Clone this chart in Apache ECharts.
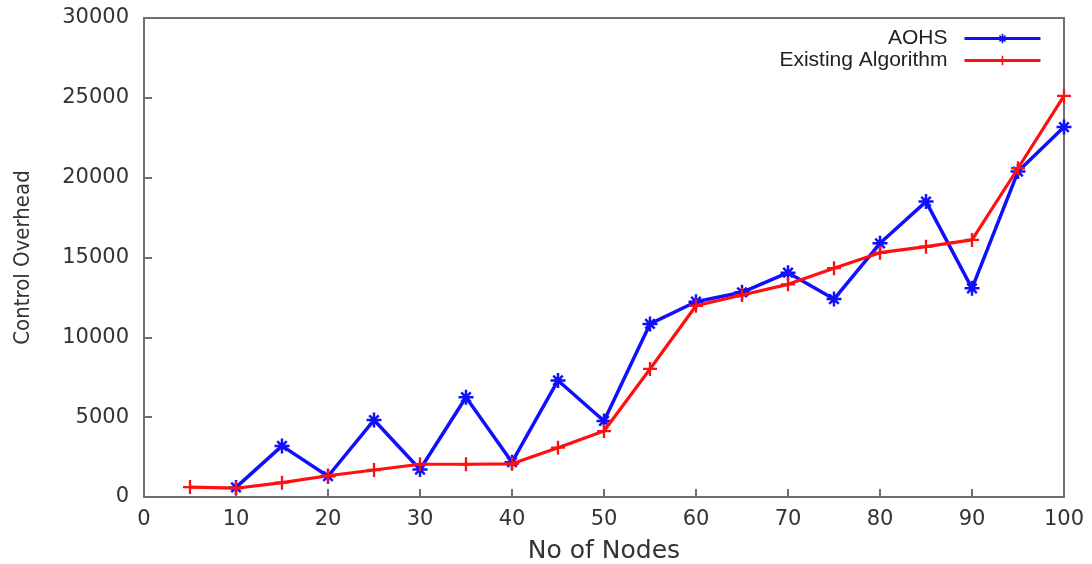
<!DOCTYPE html>
<html><head><meta charset="utf-8">
<script src="https://cdn.jsdelivr.net/npm/echarts@6/dist/echarts.min.js"></script>
<style>html,body{margin:0;padding:0;background:#fff}#c{width:1092px;height:564px}</style>
</head><body><div id="c"></div>
<script>
const nodesAOHS = [10,15,20,25,30,35,40,45,50,55,60,65,70,75,80,85,90,95,100];
const aohs      = [600,3200,1300,4820,1720,6250,2180,7300,4760,10840,12230,12820,14050,12400,15890,18500,13070,20380,23170];
const nodesExisting = [5,10,15,20,25,30,35,40,45,50,55,60,65,70,75,80,85,90,95,100];
const existing      = [620,550,900,1330,1690,2050,2050,2080,3090,4130,8020,11980,12650,13320,14330,15300,15680,16100,20590,25120];
const xTicks = [0,10,20,30,40,50,60,70,80,90,100];
const yTicks = [0,5000,10000,15000,20000,25000,30000];

const plusPath = 'path://M5,0 L7,0 L7,5 L12,5 L12,7 L7,7 L7,12 L5,12 L5,7 L0,7 L0,5 L5,5 Z';
const starPath = 'path://M5,0 L7,0 L7,5 L12,5 L12,7 L7,7 L7,12 L5,12 L5,7 L0,7 L0,5 L5,5 Z M1.5,2.9 L2.9,1.5 L6,4.6 L9.1,1.5 L10.5,2.9 L7.4,6 L10.5,9.1 L9.1,10.5 L6,7.4 L2.9,10.5 L1.5,9.1 L4.6,6 Z';

const chart = echarts.init(document.getElementById('c'), null, {renderer:'canvas'});
const axisCol = '#707070';
chart.setOption({
  animation:false,
  backgroundColor:'#fff',
  grid:{left:144,right:28,top:18,bottom:67,show:true,borderColor:axisCol,borderWidth:2,backgroundColor:'transparent',
        containLabel:false, outerBoundsMode:'none'},
  legend:{
    orient:'vertical', right:45, top:23, align:'right', itemWidth:76, itemHeight:12, itemGap:1,
    lineStyle:{width:3},
    textStyle:{fontFamily:'Liberation Sans, Arial, sans-serif', fontSize:21, color:'#222', lineHeight:16, padding:[0,12,0,0]},
    data:['AOHS','Existing Algorithm']
  },
  xAxis:{
    type:'value', min:xTicks[0], max:xTicks[xTicks.length-1], interval:10,
    name:'No of Nodes', nameLocation:'middle', nameGap:42,
    nameTextStyle:{fontFamily:'DejaVu Sans', fontSize:25, color:'#333'},
    axisLine:{show:true,lineStyle:{color:axisCol,width:2}},
    axisTick:{show:true,inside:true,length:8,lineStyle:{color:axisCol,width:2}},
    axisLabel:{fontFamily:'DejaVu Sans', fontSize:21, color:'#333', margin:12},
    splitLine:{show:false}
  },
  yAxis:{
    type:'value', min:yTicks[0], max:yTicks[yTicks.length-1], interval:5000,
    name:'Control Overhead', nameLocation:'middle', nameGap:110,
    nameTextStyle:{fontFamily:'DejaVu Sans Condensed, DejaVu Sans', fontSize:22, color:'#333'},
    axisLine:{show:true,lineStyle:{color:axisCol,width:2}},
    axisTick:{show:true,inside:true,length:8,lineStyle:{color:axisCol,width:2}},
    axisLabel:{fontFamily:'DejaVu Sans', fontSize:21, color:'#333', margin:15, formatter:v=>String(v)},
    splitLine:{show:false}
  },
  series:[
    {name:'AOHS', type:'line', data:nodesAOHS.map((x,i)=>[x,aohs[i]]),
     symbol:starPath, symbolSize:15, showAllSymbol:true,
     lineStyle:{color:'#1010ff',width:3.5}, itemStyle:{color:'#1010ff'}, z:2},
    {name:'Existing Algorithm', type:'line', data:nodesExisting.map((x,i)=>[x,existing[i]]),
     symbol:plusPath, symbolSize:14, showAllSymbol:true,
     lineStyle:{color:'#ff1010',width:3.2}, itemStyle:{color:'#ff1010'}, z:3}
  ]
});
</script></body></html>
